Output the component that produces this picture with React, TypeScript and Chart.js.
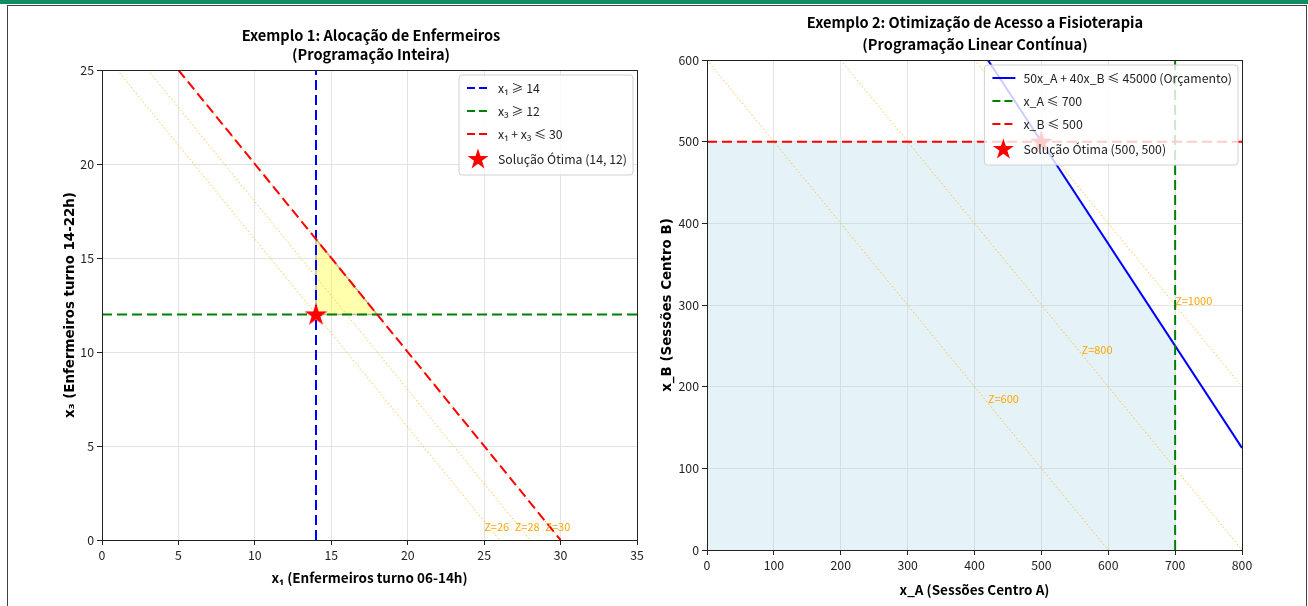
import React, { useEffect, useRef } from "react";
import { Chart, registerables } from "chart.js";

Chart.register(...registerables);

const CJK = '"Noto Sans CJK SC", "Noto Sans", sans-serif';
const DEJAVU = '"DejaVu Sans", sans-serif';

// ---------- Example 1 data ----------
const c1Title = ["Exemplo 1: Alocação de Enfermeiros", "(Programação Inteira)"];
const c1XLabel = "x₁ (Enfermeiros turno 06-14h)";
const c1YLabel = "x₃ (Enfermeiros turno 14-22h)";
const c1XRange = [0, 35];
const c1YRange = [0, 25];
const c1TickStep = [5, 5];
const c1FeasX = [14, 14, 18, 14];
const c1FeasY = [12, 16, 12, 12];
const c1X1MinX = [14, 14];
const c1X1MinY = [0, 25];
const c1X3MinX = [0, 35];
const c1X3MinY = [12, 12];
const c1SumX = [5, 30];
const c1SumY = [25, 0];
const c1IsoZ = [26, 28, 30];
const c1IsoX = [[1, 26], [3, 28], [5, 30]];
const c1IsoY = [[25, 0], [25, 0], [25, 0]];
const c1IsoLabelX = [25, 27, 29];
const c1IsoLabelY = [0.5, 0.5, 0.5];
const c1OptX = [14];
const c1OptY = [12];
const c1Legend = ["x₁ ≥ 14", "x₃ ≥ 12", "x₁ + x₃ ≤ 30", "Solução Ótima (14, 12)"];

// ---------- Example 2 data ----------
const c2Title = ["Exemplo 2: Otimização de Acesso a Fisioterapia", "(Programação Linear Contínua)"];
const c2XLabel = "x_A (Sessões Centro A)";
const c2YLabel = "x_B (Sessões Centro B)";
const c2XRange = [0, 800];
const c2YRange = [0, 600];
const c2TickStep = [100, 100];
const c2FeasX = [0, 700, 700, 500, 0, 0];
const c2FeasY = [0, 0, 250, 500, 500, 0];
const c2BudgetX = [420, 800];
const c2BudgetY = [600, 125];
const c2AMaxX = [700, 700];
const c2AMaxY = [0, 600];
const c2BMaxX = [0, 800];
const c2BMaxY = [500, 500];
const c2IsoZ = [600, 800, 1000];
const c2IsoX = [[0, 600], [200, 800], [400, 800]];
const c2IsoY = [[600, 0], [600, 0], [600, 200]];
const c2IsoLabelX = [420, 560, 700];
const c2IsoLabelY = [180, 240, 300];
const c2OptX = [500];
const c2OptY = [500];
const c2Legend = ["50x_A + 40x_B ≤ 45000 (Orçamento)", "x_A ≤ 700", "x_B ≤ 500", "Solução Ótima (500, 500)"];

const zip = (xs: number[], ys: number[]) => xs.map((x, i) => ({ x, y: ys[i] }));

function starPath(ctx: CanvasRenderingContext2D, cx: number, cy: number, R: number) {
  const r = R * 0.381966;
  ctx.beginPath();
  for (let i = 0; i < 10; i++) {
    const rad = i % 2 === 0 ? R : r;
    const a = -Math.PI / 2 + (i * Math.PI) / 5;
    const px = cx + rad * Math.cos(a);
    const py = cy + rad * Math.sin(a);
    if (i === 0) ctx.moveTo(px, py);
    else ctx.lineTo(px, py);
  }
  ctx.closePath();
}

function makeStar(R: number, color: string) {
  const c = document.createElement("canvas");
  const size = Math.ceil(R * 2 + 2);
  c.width = size;
  c.height = size;
  const ctx = c.getContext("2d")!;
  ctx.fillStyle = color;
  starPath(ctx, size / 2, size / 2 + R * 0.05, R);
  ctx.fill();
  return c;
}

type LegendEntry = { label: string; kind: "line" | "star"; color: string; dash?: number[] };

function makeOverlay(cfg: {
  title: string[];
  titleX: number;
  titleY: number[];
  legend: LegendEntry[];
  isoText: string[];
  isoX: number[];
  isoY: number[];
}) {
  return {
    id: "overlay",
    afterDatasetsDraw(chart: any) {
      const { ctx, chartArea: a, scales } = chart;
      ctx.save();
      ctx.font = `11px ${CJK}`;
      ctx.fillStyle = "orange";
      ctx.textAlign = "left";
      ctx.textBaseline = "alphabetic";
      cfg.isoText.forEach((t, i) => {
        ctx.fillText(t, scales.x.getPixelForValue(cfg.isoX[i]), scales.y.getPixelForValue(cfg.isoY[i]));
      });
      ctx.strokeStyle = "#222";
      ctx.lineWidth = 1;
      ctx.strokeRect(Math.round(a.left) + 0.5, Math.round(a.top) + 0.5, Math.round(a.right - a.left), Math.round(a.bottom - a.top));
      ctx.restore();
    },
    afterDraw(chart: any) {
      const { ctx, chartArea: a } = chart;
      ctx.save();
      ctx.font = `bold 14.6px ${CJK}`;
      ctx.fillStyle = "#000";
      ctx.textAlign = "center";
      ctx.textBaseline = "middle";
      cfg.title.forEach((t, i) => ctx.fillText(t, cfg.titleX, cfg.titleY[i]));
      ctx.font = `12.3px ${CJK}`;
      const maxW = Math.max(...cfg.legend.map((e) => ctx.measureText(e.label).width));
      const w = 39 + maxW + 6;
      const h = 100;
      const x = a.right - 4 - w;
      const y = a.top + 5;
      const rows = [13, 36, 59, 84];
      ctx.beginPath();
      const rr = 3;
      ctx.moveTo(x + rr, y);
      ctx.arcTo(x + w, y, x + w, y + h, rr);
      ctx.arcTo(x + w, y + h, x, y + h, rr);
      ctx.arcTo(x, y + h, x, y, rr);
      ctx.arcTo(x, y, x + w, y, rr);
      ctx.closePath();
      ctx.fillStyle = "rgba(255,255,255,0.8)";
      ctx.fill();
      ctx.strokeStyle = "#d0d0d0";
      ctx.lineWidth = 1;
      ctx.stroke();
      cfg.legend.forEach((e, i) => {
        const cy = y + rows[i];
        if (e.kind === "line") {
          ctx.beginPath();
          ctx.setLineDash(e.dash || []);
          ctx.strokeStyle = e.color;
          ctx.lineWidth = 2;
          ctx.moveTo(x + 8, cy);
          ctx.lineTo(x + 31, cy);
          ctx.stroke();
          ctx.setLineDash([]);
        } else {
          ctx.fillStyle = e.color;
          starPath(ctx, x + 19, cy + 0.5, 11);
          ctx.fill();
        }
        ctx.fillStyle = "#222";
        ctx.textAlign = "left";
        ctx.textBaseline = "middle";
        ctx.fillText(e.label, x + 39, cy);
      });
      ctx.restore();
    },
  };
}

const DASH = [10, 5];
const ISO_COLOR = "rgba(255,165,0,0.7)";
const ISO_DASH = [1.5, 2.2];

function lineDs(data: any[], color: string, dash: number[] | undefined, order: number, width = 2) {
  return {
    data,
    borderColor: color,
    backgroundColor: color,
    borderWidth: width,
    borderDash: dash || [],
    pointRadius: 0,
    fill: false,
    tension: 0,
    order,
  };
}

function scaleOpts(
  range: number[],
  step: number,
  title: string,
  titleFont: any,
  titlePad: any,
  fitSize: number,
  axis: "x" | "y"
) {
  return {
    type: "linear",
    min: range[0],
    max: range[1],
    ticks: {
      stepSize: step,
      font: { family: CJK, size: 12.3 },
      color: "#222",
      padding: 3,
    },
    grid: {
      color: "#e3e3e3",
      lineWidth: 1,
      drawTicks: true,
      tickLength: 5,
      tickColor: "#222",
    },
    border: { display: true, color: "#222", width: 1 },
    title: {
      display: true,
      text: title,
      font: titleFont,
      color: "#000",
      padding: titlePad,
    },
    afterFit: (s: any) => {
      if (axis === "x") s.height = fitSize;
      else s.width = fitSize;
    },
  };
}

export default function App() {
  const ref1 = useRef<HTMLCanvasElement>(null);
  const ref2 = useRef<HTMLCanvasElement>(null);

  useEffect(() => {
    document.body.style.margin = "0";
    const star1 = makeStar(12, "red");
    const star2 = makeStar(12, "red");

    const ch1 = new Chart(ref1.current!, {
      type: "line",
      data: {
        datasets: [
          {
            data: zip(c1OptX, c1OptY),
            pointStyle: star1 as any,
            pointRadius: 12,
            showLine: false,
            borderColor: "red",
            backgroundColor: "red",
            order: 0,
          } as any,
          lineDs(zip(c1SumX, c1SumY), "red", DASH, 3),
          lineDs(zip(c1X3MinX, c1X3MinY), "green", DASH, 4),
          lineDs(zip(c1X1MinX, c1X1MinY), "blue", DASH, 5),
          ...c1IsoX.map((xs, i) => lineDs(zip(xs, c1IsoY[i]), ISO_COLOR, ISO_DASH, 8, 1)),
          {
            data: zip(c1FeasX, c1FeasY),
            borderColor: "rgba(140,140,110,0.6)",
            borderWidth: 1.5,
            backgroundColor: "rgba(255,255,0,0.32)",
            fill: "shape",
            pointRadius: 0,
            tension: 0,
            order: 10,
          } as any,
        ],
      },
      options: {
        animation: false,
        responsive: false,
        devicePixelRatio: 1,
        layout: { padding: { left: 0, top: 62, right: 12, bottom: 0 } },
        plugins: { legend: { display: false }, tooltip: { enabled: false } },
        scales: {
          x: scaleOpts(c1XRange, c1TickStep[0], c1XLabel, { family: CJK, size: 13.5, weight: "bold" }, { top: 0, bottom: 20 }, 66, "x") as any,
          y: scaleOpts(c1YRange, c1TickStep[1], c1YLabel, { family: DEJAVU, size: 13.4, weight: "bold" }, { top: 52, bottom: 0 }, 92, "y") as any,
        },
      },
      plugins: [
        makeOverlay({
          title: c1Title,
          titleX: 361,
          titleY: [27, 46],
          legend: [
            { label: c1Legend[0], kind: "line", color: "blue", dash: [8, 4] },
            { label: c1Legend[1], kind: "line", color: "green", dash: [8, 4] },
            { label: c1Legend[2], kind: "line", color: "red", dash: [8, 4] },
            { label: c1Legend[3], kind: "star", color: "red" },
          ],
          isoText: c1IsoZ.map((z) => `Z=${z}`),
          isoX: c1IsoLabelX,
          isoY: c1IsoLabelY,
        }),
      ],
    });

    const ch2 = new Chart(ref2.current!, {
      type: "line",
      data: {
        datasets: [
          {
            data: zip(c2OptX, c2OptY),
            pointStyle: star2 as any,
            pointRadius: 12,
            showLine: false,
            borderColor: "red",
            backgroundColor: "red",
            order: 0,
          } as any,
          lineDs(zip(c2BMaxX, c2BMaxY), "red", DASH, 3),
          lineDs(zip(c2AMaxX, c2AMaxY), "green", DASH, 4),
          lineDs(zip(c2BudgetX, c2BudgetY), "blue", undefined, 5),
          ...c2IsoX.map((xs, i) => lineDs(zip(xs, c2IsoY[i]), ISO_COLOR, ISO_DASH, 8, 1)),
          {
            data: zip(c2FeasX, c2FeasY),
            borderColor: "rgba(0,0,0,0)",
            borderWidth: 0,
            backgroundColor: "rgba(173,216,230,0.32)",
            fill: "shape",
            pointRadius: 0,
            tension: 0,
            order: 10,
          } as any,
        ],
      },
      options: {
        animation: false,
        responsive: false,
        devicePixelRatio: 1,
        layout: { padding: { left: 0, top: 52, right: 62, bottom: 0 } },
        plugins: { legend: { display: false }, tooltip: { enabled: false } },
        scales: {
          x: scaleOpts(c2XRange, c2TickStep[0], c2XLabel, { family: CJK, size: 13.5, weight: "bold" }, { top: 0, bottom: 8 }, 56, "x") as any,
          y: scaleOpts(c2YRange, c2TickStep[1], c2YLabel, { family: DEJAVU, size: 13.4, weight: "bold" }, { top: 7, bottom: 0 }, 55, "y") as any,
        },
      },
      plugins: [
        makeOverlay({
          title: c2Title,
          titleX: 323,
          titleY: [14, 36],
          legend: [
            { label: c2Legend[0], kind: "line", color: "blue" },
            { label: c2Legend[1], kind: "line", color: "green", dash: [8, 4] },
            { label: c2Legend[2], kind: "line", color: "red", dash: [8, 4] },
            { label: c2Legend[3], kind: "star", color: "red" },
          ],
          isoText: c2IsoZ.map((z) => `Z=${z}`),
          isoX: c2IsoLabelX,
          isoY: c2IsoLabelY,
        }),
      ],
    });

    return () => {
      ch1.destroy();
      ch2.destroy();
    };
  }, []);

  return (
    <div style={{ position: "fixed", left: 0, top: 0, width: 1308, height: 606, background: "#fff", overflow: "hidden" }}>
      <div style={{ position: "absolute", left: 0, top: 0, width: 1308, height: 4, background: "#118c64" }} />
      <div
        style={{
          position: "absolute",
          left: 7,
          top: 5,
          width: 1300,
          height: 640,
          border: "1px solid #444",
          boxSizing: "border-box",
        }}
      />
      <canvas ref={ref1} width={640} height={598} style={{ position: "absolute", left: 10, top: 8 }} />
      <canvas ref={ref2} width={652} height={598} style={{ position: "absolute", left: 652, top: 8 }} />
    </div>
  );
}
